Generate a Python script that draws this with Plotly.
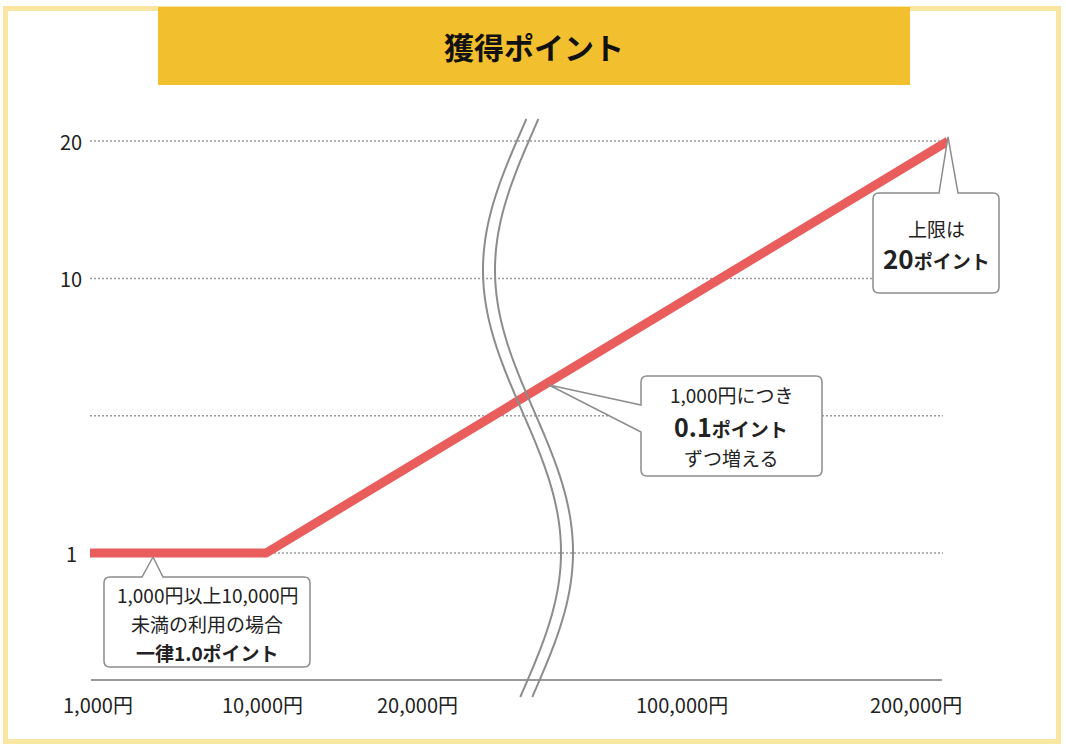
import numpy as np
import plotly.graph_objects as go

# 利用金額(円) と 獲得ポイント
amounts = [1000, 10000, 200000]
points = [1.0, 1.0, 20.0]

# axis ticks
x_tick_amounts = [1000, 10000, 20000, 100000, 200000]
x_tick_labels = ['1,000円', '10,000円', '20,000円', '100,000円', '200,000円']
y_grid_points = [1, 5, 10, 20]
y_tick_labels = ['1', '', '10', '20']

# callout texts
note_low = ['1,000円以上10,000円', '未満の利用の場合', '<b>一律1.0ポイント</b>']
note_mid = ['1,000円につき', '<b><span style="font-size:25px">0.1</span>ポイント</b>', 'ずつ増える']
note_top = ['上限は', '<b><span style="font-size:26px">20</span>ポイント</b>']

title = '獲得ポイント'

# ---- layout constants ----
W, H = 1066, 750
FONT = 'Noto Sans CJK JP'
RED = '#E95D5D'
GRAY = '#8C8C8C'
GRID = '#9A9A9A'
TXT = '#222222'

# broken (schematic) axis: each tick gets its own slot
x_tick_slots = [0, 1, 1.858, 3.364, 4.875]
y_grid_slots = [0, 1, 2, 3]
PX0, PX_SLOT = 90, 176      # pixel of slot 0 and pixels per slot
PY0, PY_SLOT = 553, 137.3


def x_scale(v):
    return np.interp(v, x_tick_amounts, x_tick_slots)


def y_scale(v):
    return np.interp(v, y_grid_points, y_grid_slots)


# pixel helpers for the decorations
def px(x):
    return (x - PX0) / PX_SLOT


def py(y):
    return (PY0 - y) / PY_SLOT


def to_path(pts):
    out = []
    for cmd, *xy in pts:
        coords = ' '.join(f'{px(xy[i]):.4f},{py(xy[i+1]):.4f}' for i in range(0, len(xy), 2))
        out.append(f'{cmd}{coords}')
    return ' '.join(out) + ' Z'


def box_top_pointer(x0, y0, x1, y1, bx0, bx1, tx, ty, r=6):
    return to_path([
        ('M', x0 + r, y0), ('L', bx0, y0), ('L', tx, ty), ('L', bx1, y0),
        ('L', x1 - r, y0), ('Q', x1, y0, x1, y0 + r),
        ('L', x1, y1 - r), ('Q', x1, y1, x1 - r, y1),
        ('L', x0 + r, y1), ('Q', x0, y1, x0, y1 - r),
        ('L', x0, y0 + r), ('Q', x0, y0, x0 + r, y0)])


def box_left_pointer(x0, y0, x1, y1, by0, by1, tx, ty, r=6):
    return to_path([
        ('M', x0 + r, y0), ('L', x1 - r, y0), ('Q', x1, y0, x1, y0 + r),
        ('L', x1, y1 - r), ('Q', x1, y1, x1 - r, y1),
        ('L', x0 + r, y1), ('Q', x0, y1, x0, y1 - r),
        ('L', x0, by1), ('L', tx, ty), ('L', x0, by0),
        ('L', x0, y0 + r), ('Q', x0, y0, x0 + r, y0)])


fig = go.Figure()

fig.add_trace(go.Scatter(
    x=x_scale(amounts), y=y_scale(points), mode='lines',
    line=dict(color=RED, width=9), hoverinfo='skip', showlegend=False))

shapes = []
# frame + title banner
shapes.append(dict(type='rect', xref='x', yref='y', x0=px(5.5), y0=py(8.5), x1=px(1058.5), y1=py(741.5),
                   line=dict(color='#F9E6A0', width=5), layer='below'))
shapes.append(dict(type='rect', xref='x', yref='y', x0=px(158), y0=py(7), x1=px(910), y1=py(85),
                   fillcolor='#F2BF2E', line=dict(width=0), layer='below'))

# dotted grid lines
for g in y_grid_points:
    shapes.append(dict(type='line', xref='x', yref='y', x0=px(90), x1=px(943), y0=y_scale(g), y1=y_scale(g),
                       line=dict(color=GRID, width=1.5, dash='2px,2px'), layer='below'))
# base line
shapes.append(dict(type='line', xref='x', yref='y', x0=px(91), x1=px(942), y0=py(680), y1=py(680),
                   line=dict(color='#999999', width=2), layer='below'))

# wavy break marks
ys = np.linspace(119, 697, 120)
for off in (0, 12):
    xs = 522 + off - 39 * np.sin(np.pi * (ys - 129) / 282)
    d = 'M' + ' L'.join(f'{px(a):.4f},{py(b):.4f}' for a, b in zip(xs, ys))
    shapes.append(dict(type='path', xref='x', yref='y', path=d, line=dict(color=GRAY, width=2), layer='above'))

# callout boxes
for p in (box_top_pointer(104, 577, 310, 667, 142, 163, 153, 557),
          box_left_pointer(641, 376, 822, 476, 405, 432, 549, 385),
          box_top_pointer(873, 193, 999, 293, 939, 958, 948, 137)):
    shapes.append(dict(type='path', xref='x', yref='y', path=p, fillcolor='white',
                       line=dict(color=GRAY, width=1.5), layer='above'))

ann = []
# title
ann.append(dict(x=px(534), y=py(46), text=f'<b>{title}</b>', showarrow=False,
                font=dict(size=30, color='#111111', family=FONT)))
# x tick labels
x_shift = [8, -4, 0, 0, -32]
for a, lab, s in zip(x_tick_amounts, x_tick_labels, x_shift):
    ann.append(dict(x=x_scale(a), y=py(704), text=lab, showarrow=False, xshift=s,
                    font=dict(size=20, color=TXT, family=FONT)))
# y tick labels
for g, lab in zip(y_grid_points, y_tick_labels):
    if lab:
        ann.append(dict(x=px(71), y=y_scale(g), text=lab, showarrow=False,
                        font=dict(size=20, color=TXT, family=FONT)))
# callout texts
for lines, cx, cys in ((note_low, 207, (594, 623, 652)),
                       (note_mid, 731, (394, 426, 457)),
                       (note_top, 936, (228, 257))):
    for t, cy in zip(lines, cys):
        ann.append(dict(x=px(cx), y=py(cy), text=t, showarrow=False,
                        font=dict(size=19, color=TXT, family=FONT)))

for a in ann:
    a.update(xref='x', yref='y')

fig.update_layout(
    width=W, height=H, autosize=False,
    margin=dict(l=0, r=0, t=0, b=0),
    paper_bgcolor='white', plot_bgcolor='white',
    xaxis=dict(range=[px(0), px(W)], visible=False, fixedrange=True),
    yaxis=dict(range=[py(H), py(0)], visible=False, fixedrange=True),
    shapes=shapes, annotations=ann,
    font=dict(family=FONT, color=TXT),
)

fig.write_html('out.html', config={'displayModeBar': False},
               post_script="document.body.style.margin='0px';")
